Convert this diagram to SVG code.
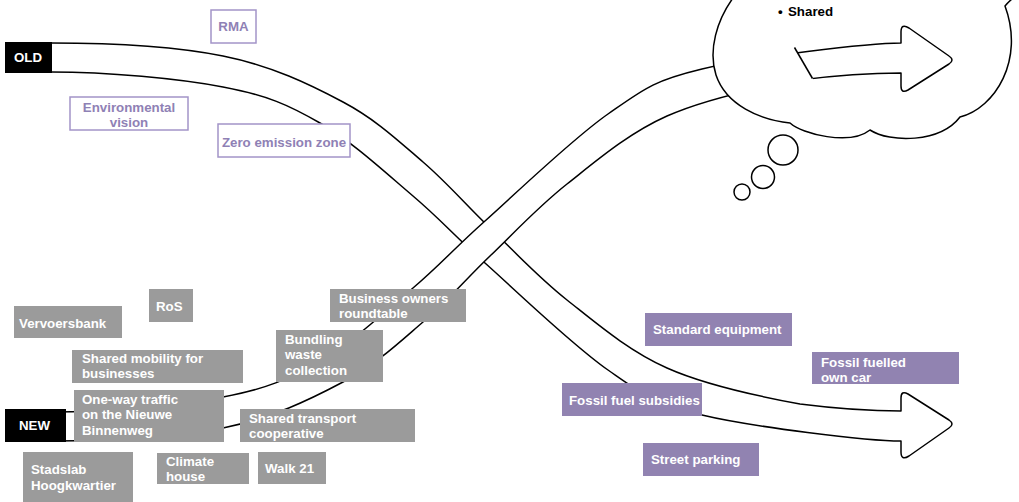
<svg xmlns="http://www.w3.org/2000/svg" xmlns:xlink="http://www.w3.org/1999/xlink" width="1019" height="502" viewBox="0 0 1019 502">
<style>
text{font-family:"Liberation Sans",Arial,sans-serif;font-weight:bold;font-size:13.3px}
.arrow{fill:#fff;stroke:#000;stroke-width:1.5;stroke-linejoin:round}
.line{fill:none;stroke:#000;stroke-width:1.5}
.gray rect{fill:#9b9b9b}
.gray text{fill:#fff}
.purp rect{fill:#9183b1}
.purp text{fill:#fff}
.outl rect{fill:#fff;stroke:#a394c8;stroke-width:1.5}
.outl text{fill:#8f81b5;text-anchor:middle}
.lbl rect{fill:#000}
.lbl text{fill:#fff}
</style>
<defs>
<path id="band" d="M40,43 L51,43 C108,43 174.3,46.2 223,56 C271.7,65.8 309.7,84.3 343,102 C376.3,119.7 398.5,141 423,162 C447.5,183 466,205 490,228 C514,251 537.5,276.7 567,300 C596.5,323.3 628.2,350.7 667,368 C705.8,385.3 760.8,396.8 800,404 C839.2,409 868,411 901,411 L901,398 Q901,390 908,394 L949,420 Q955,424 949,428 L909,456 Q901,461 901,452 L901,441 C868,441 751,426.8 702,415 C653,403.2 644.2,395.3 608,370 C571.8,344.7 517.5,292 485,263 C452.5,234 440.5,219.3 413,196 C385.5,172.7 351.7,141.2 320,123 C288.3,104.8 267.8,95.5 223,87 C178.2,78.5 108,72 51,72 L40,72 Z"/>
<clipPath id="cloudClip"><polygon points="761,-10 1030,-10 1030,130 843,130"/></clipPath>
</defs>
<g id="arrows">
<use xlink:href="#band" class="arrow"/>
<use xlink:href="#band" class="arrow" transform="matrix(1,0,0,-1,0,484)"/>
</g>
<g id="thought">
<path class="arrow" d="M733,-2 C717,20 708,50 716,75 C726,105 760,120 790,123 C802,134 850,146 870,130 C890,143 940,143 960,117 C995,108 1025,60 1005,6 C1010,0 1015,-4 1022,-8 L1022,-20 L733,-20 Z"/>
<circle class="arrow" cx="783" cy="150" r="15"/>
<circle class="arrow" cx="763" cy="177" r="11.5"/>
<circle class="arrow" cx="742" cy="192" r="8"/>
<g clip-path="url(#cloudClip)"><use xlink:href="#band" class="arrow" transform="matrix(1,0,0,-1,0,484)"/></g>
<line class="line" x1="794.5" y1="47.5" x2="812.5" y2="78.5"/>
<text x="778" y="16" fill="#000">•</text>
<text x="788" y="16" fill="#000">Shared</text>
</g>
<g id="old" class="lbl"><rect x="5" y="42" width="47" height="31"/><text x="14" y="62">OLD</text></g>
<g id="new" class="lbl"><rect x="5" y="409" width="61" height="33"/><text x="19" y="430">NEW</text></g>
<g id="rma" class="outl"><rect x="211" y="10" width="45" height="33"/><text x="233.5" y="31">RMA</text></g>
<g id="envvision" class="outl"><rect x="70" y="97" width="118" height="33"/><text x="129" y="112">Environmental</text><text x="129" y="127">vision</text></g>
<g id="zez" class="outl"><rect x="218" y="124" width="132" height="33"/><text x="284" y="147">Zero emission zone</text></g>
<g id="ros" class="gray"><rect x="149" y="289" width="44" height="33"/><text x="156" y="311">RoS</text></g>
<g id="vervoersbank" class="gray"><rect x="14" y="306" width="108" height="32"/><text x="19" y="328">Vervoersbank</text></g>
<g id="sharedmob" class="gray"><rect x="72" y="350" width="171" height="33"/><text x="82" y="363">Shared mobility for</text><text x="82" y="378">businesses</text></g>
<g id="oneway" class="gray"><rect x="74" y="390" width="150" height="52"/><text x="82" y="404">One-way traffic</text><text x="82" y="419">on the Nieuwe</text><text x="82" y="435">Binnenweg</text></g>
<g id="bundling" class="gray"><rect x="276" y="330" width="107" height="52"/><text x="285" y="344">Bundling</text><text x="285" y="359">waste</text><text x="285" y="375">collection</text></g>
<g id="business" class="gray"><rect x="330" y="289" width="136" height="33"/><text x="339" y="303">Business owners</text><text x="339" y="318">roundtable</text></g>
<g id="sharedtransport" class="gray"><rect x="240" y="409" width="175" height="33"/><text x="249" y="423">Shared transport</text><text x="249" y="438">cooperative</text></g>
<g id="stadslab" class="gray"><rect x="23" y="452" width="110" height="50"/><text x="31" y="474">Stadslab</text><text x="31" y="490">Hoogkwartier</text></g>
<g id="climate" class="gray"><rect x="157" y="453" width="92" height="31"/><text x="166" y="466">Climate</text><text x="166" y="481">house</text></g>
<g id="walk21" class="gray"><rect x="258" y="452" width="68" height="32"/><text x="265" y="473">Walk 21</text></g>
<g id="standard" class="purp"><rect x="645" y="313" width="147" height="33"/><text x="653" y="334">Standard equipment</text></g>
<g id="fossilcar" class="purp"><rect x="812" y="352" width="147" height="32"/><text x="821" y="367">Fossil fuelled</text><text x="821" y="382">own car</text></g>
<g id="fossilsub" class="purp"><rect x="562" y="383" width="140" height="33"/><text x="569" y="405">Fossil fuel subsidies</text></g>
<g id="parking" class="purp"><rect x="643" y="443" width="116" height="33"/><text x="651" y="464">Street parking</text></g>
</svg>
